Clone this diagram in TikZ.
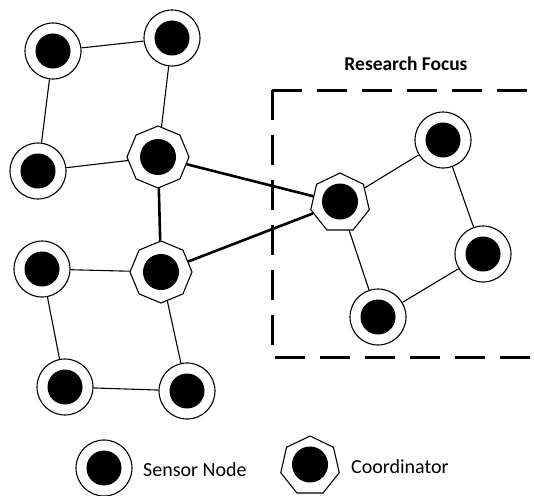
\documentclass[tikz,border=0pt]{standalone}
\usepackage{fontspec}
\setmainfont{Carlito}
\usetikzlibrary{shapes.geometric}
\tikzset{
  sensor/.style={circle, draw, line width=1.1pt, fill=white, minimum size=56pt, inner sep=0pt,
    path picture={\fill[black] (path picture bounding box.center) circle (17.5pt);}},
  coord8/.style={regular polygon, regular polygon sides=8, shape border rotate=22.5, draw, line width=1.1pt, fill=white,
    minimum size=62pt, inner sep=0pt,
    path picture={\fill[black] (path picture bounding box.center) circle (18pt);}},
  coord7/.style={regular polygon, regular polygon sides=7, draw, line width=1.1pt, fill=white,
    minimum size=60pt, inner sep=0pt,
    path picture={\fill[black] (path picture bounding box.center) circle (18pt);}},
  thin/.style={line width=1.1pt},
  thick link/.style={line width=2.6pt},
  focus/.style={line width=3pt, dash pattern=on 30pt off 15pt},
  lbl/.style={font=\fontsize{20pt}{22pt}\selectfont, anchor=west, inner sep=0pt}
}
\begin{document}
\begin{tikzpicture}[x=1pt,y=-1pt]
\useasboundingbox (0,0) rectangle (534,495);
% research focus region
\draw[focus] (272,90) -- (534,90);
\draw[focus] (272,90) -- (272,357) -- (534,357);
\node[font=\bfseries\fontsize{19.5pt}{22pt}\selectfont] (rf) at (406,64) {Research Focus};
% nodes
\node[sensor] (a) at (53,51) {};
\node[sensor] (b) at (172,38) {};
\node[sensor] (c) at (38,171) {};
\node[coord8] (d) at (158,157) {};
\node[sensor] (e) at (42,269) {};
\node[coord8] (f) at (161,272) {};
\node[sensor] (g) at (65,387) {};
\node[sensor] (h) at (187,391) {};
\node[coord7] (i) at (340,203) {};
\node[sensor] (j) at (443,140) {};
\node[sensor] (k) at (483,254) {};
\node[sensor] (l) at (378,317) {};
% links
\draw[thin] (a) -- (b);
\draw[thin] (a) -- (c);
\draw[thin] (b) -- (d);
\draw[thin] (c) -- (d);
\draw[thin] (e) -- (f);
\draw[thin] (e) -- (g);
\draw[thin] (f) -- (h);
\draw[thin] (g) -- (h);
\draw[thick link] (d) -- (f);
\draw[thick link] (d) -- (i);
\draw[thick link] (f) -- (i);
\draw[thin] (i) -- (j);
\draw[thin] (j) -- (k);
\draw[thin] (k) -- (l);
\draw[thin] (l) -- (i);
% legend
\node[sensor] (ls) at (104,468) {};
\node[lbl] (lst) at (143,470) {Sensor Node};
\node[coord7] (lc) at (310,466) {};
\node[lbl] (lct) at (351,467) {Coordinator};
\end{tikzpicture}
\end{document}
